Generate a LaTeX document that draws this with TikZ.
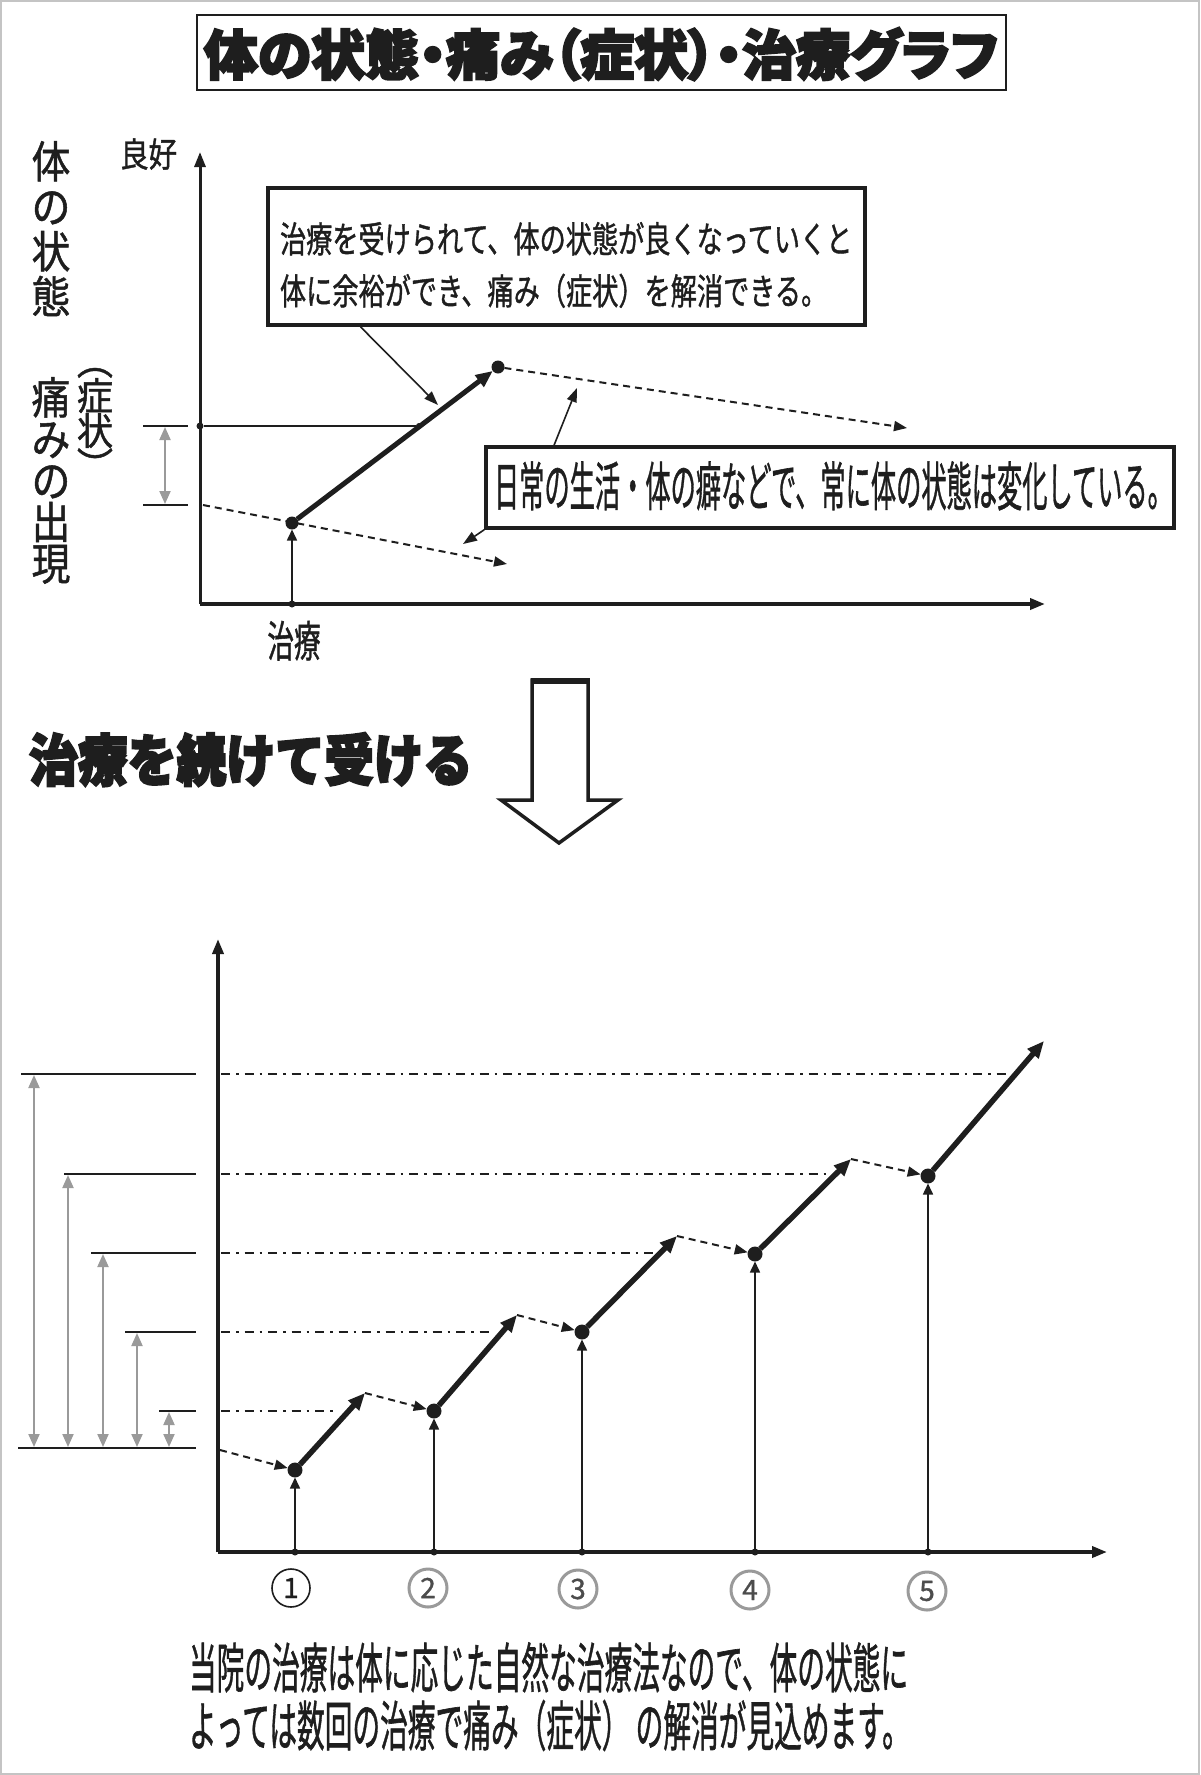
\documentclass[tikz,border=0pt]{standalone}
\usepackage{fontspec}
\usepackage{graphicx}
\usetikzlibrary{arrows.meta,calc}
\setmainfont{Noto Sans CJK JP}
\newfontfamily\jp{Noto Sans CJK JP}[FakeBold=1.2]
\newfontfamily\jpheavy{Noto Sans CJK JP}[FakeBold=4]
\newfontfamily\jptitle{Noto Sans CJK JP}[FakeBold=4, RawFeature=+palt]
\newcommand\hsq[2]{\scalebox{#1}[1]{#2}}
\definecolor{ink}{HTML}{1E1E1E}
\definecolor{midgray}{HTML}{9A9A9A}
\definecolor{framegray}{HTML}{C4C4C4}
\tikzset{
  txt/.style={inner sep=0pt, outer sep=0pt, text=ink},
  axisline/.style={draw=ink, line width=3.6pt, -{Triangle[length=15pt,width=11pt]}},
  frame/.style={draw=ink, line width=3.6pt, inner sep=0pt, fill=white},
  callout/.style={draw=ink, line width=1.6pt, -{Triangle[length=14pt,width=10pt]}},
  riser/.style={draw=ink, line width=1.6pt, -{Triangle[length=11pt,width=10pt]}},
  dashline/.style={draw=ink, line width=2pt, dash pattern=on 7pt off 5pt},
  dashtip/.style={dashline, -{Triangle[length=13pt,width=10pt]}},
  dashdot/.style={draw=ink, line width=1.8pt, dash pattern=on 9pt off 6pt on 2.5pt off 6pt},
  gain/.style={draw=ink, line width=5.5pt, -{Triangle[length=17pt,width=14pt]}},
  measure/.style={draw=midgray, line width=2pt, {Triangle[length=13pt,width=11pt]}-{Triangle[length=13pt,width=11pt]}},
  levelline/.style={draw=ink, line width=2pt},
  pointdot/.style={circle, fill=ink, inner sep=0pt, outer sep=0pt, minimum size=#1},
  pointdot/.default=15pt,
  tickdot/.style={circle, fill=ink, inner sep=0pt, outer sep=0pt, minimum size=7pt},
  numring/.style={circle, draw=#1, inner sep=0pt, minimum size=38pt, font=\jp\fontsize{28}{28}\selectfont},
}
\begin{document}
\begin{tikzpicture}[x=1pt,y=-1pt]
\useasboundingbox (0,0) rectangle (1200,1775);
\fill[white] (0,0) rectangle (1200,1775);
\draw[framegray, line width=2pt] (1,1) rectangle (1199,1774);

% ---------- title ----------
\node[draw=ink, line width=1.5pt, fill=white, minimum width=809pt, minimum height=75pt, inner sep=0pt] (titlebox) at (601.5,52.5) {};
\node[txt, anchor=base, font=\jptitle\bfseries\fontsize{54}{54}\selectfont] (title) at (601,75) {\hsq{1.0}{体の状態・痛み（症状）・治療グラフ}};

% ---------- upper graph: labels ----------
\foreach \c [count=\i from 0] in {体,の,状,態}
  \node[txt, anchor=base, font=\jp\fontsize{44}{44}\selectfont] (vbody\i) at (51,{178+45*\i}) {\hsq{0.88}{\c}};
\foreach \c [count=\i from 0] in {痛,み,の,出,現}
  \node[txt, anchor=base, font=\jp\fontsize{44}{44}\selectfont] (vpain\i) at (51,{414+41.5*\i}) {\hsq{0.88}{\c}};
\foreach \c [count=\i from 0] in {︵,症,状,︶}
  \node[txt, anchor=base, font=\jp\fontsize{38}{38}\selectfont] (vsym\i) at (95,{375+35*\i}) {\hsq{0.95}{\c}};
\node[txt, anchor=base west, font=\jp\fontsize{34}{34}\selectfont] (good) at (120,167) {\hsq{0.84}{良好}};
\node[txt, anchor=base, font=\jp\fontsize{43}{43}\selectfont] (treatlabel) at (294,657) {\hsq{0.62}{治療}};

% ---------- upper graph: axes ----------
\coordinate (O1) at (200,604);
\coordinate (Y1) at (200,152);
\coordinate (X1) at (1045,604);
\draw[axisline, line width=3pt] (O1) -- (Y1);
\draw[axisline] (O1) -- (X1);

% left measure
\coordinate (mlA) at (143,426); \coordinate (mrA) at (188,426);
\coordinate (mlB) at (143,505); \coordinate (mrB) at (188,505);
\draw[levelline, line width=1.6pt] (mlA) -- (mrA);
\draw[levelline, line width=1.6pt] (mlB) -- (mrB);
\coordinate (gA) at (165,427); \coordinate (gB) at (165,504);
\draw[measure] (gA) -- (gB);

% dashed trend through the treatment point
\coordinate (d0) at (203,505);
\coordinate (d1) at (507,564);
\coordinate (d2) at (907,428);
\draw[dashtip] (d0) -- (d1);

% points
\node[tickdot] (ydot) at (200,426) {};
\node[tickdot, minimum size=6pt] (hdot) at (419,426) {};
\node[tickdot] (xtick0) at (292,604) {};
\node[pointdot=13pt] (Ptop) at (292,523) {};
\node[pointdot=13pt] (Ttop) at (498,367) {};
\draw[levelline, line width=1.6pt] (ydot) -- (hdot);
\draw[riser] (xtick0) -- (Ptop);
\draw[gain, line width=5pt] (Ptop) -- (Ttop);
\draw[dashtip] (Ttop) -- (d2);

% callout boxes
\node[frame, minimum width=597pt, minimum height=137pt] (box1) at (566.5,256.5) {};
\node[txt, anchor=base west, font=\jp\fontsize{36}{36}\selectfont] (b1l1) at (280,252.5) {\hsq{0.727}{治療を受けられて、体の状態が良くなっていくと}};
\node[txt, anchor=base west, font=\jp\fontsize{36}{36}\selectfont] (b1l2) at (280,304.5) {\hsq{0.727}{体に余裕ができ、痛み（症状）を解消できる。}};
\node[frame, minimum width=688pt, minimum height=81pt] (box2) at (830,487.5) {};
\node[txt, anchor=base west, font=\jp\fontsize{53}{53}\selectfont] (b2l1) at (494,506) {\hsq{0.476}{日常の生活・体の癖などで、常に体の状態は変化している。}};

\coordinate (c1s) at ($(box1.south west)!0.157!(box1.south east)$);
\coordinate (c1e) at (438,405);
\draw[callout] (c1s) -- (c1e);
\coordinate (c2s) at ($(box2.north west)!0.101!(box2.north east)$);
\coordinate (c2e) at (577,388);
\draw[callout] (c2s) -- (c2e);
\coordinate (c3e) at (463,544);
\draw[callout] (box2.south west) -- (c3e);

% ---------- block arrow and caption ----------
\draw[ink, line width=3.5pt, line join=miter, fill=white]
  (532,680) -- (588,680) -- (588,800) -- (618,800) -- (559,843) -- (501,800) -- (532,800) -- cycle;
\draw[ink, line width=6pt] (530.5,681) -- (589.5,681);
\node[txt, anchor=base west, font=\jpheavy\bfseries\fontsize{56}{56}\selectfont] (continue) at (29,781) {\hsq{0.88}{治療を続けて受ける}};

% ---------- lower graph ----------
\coordinate (O2) at (218,1552);
\coordinate (Y2) at (218,939);
\coordinate (X2) at (1107,1552);
\draw[axisline] (O2) -- (Y2);
\draw[axisline] (O2) -- (X2);

% left measuring lines
\foreach \lv/\lx/\gx [count=\k] in {1074/21/34, 1174/64/68, 1253/91/103, 1332/125/137, 1411/159/169} {
  \coordinate (ll\k) at (\lx,\lv);
  \coordinate (lr\k) at (196,\lv);
  \draw[levelline] (ll\k) -- (lr\k);
  \coordinate (gt\k) at (\gx,\lv+1);
  \coordinate (gb\k) at (\gx,1447);
  \draw[measure] (gt\k) -- (gb\k);
}
\coordinate (base0) at (18,1448);
\coordinate (base1) at (196,1448);
\draw[levelline] (base0) -- (base1);

% dash-dot level lines
\foreach \lv/\ex [count=\k] in {1074/1006, 1174/830, 1253/654, 1332/494, 1411/337} {
  \coordinate (ds\k) at (221,\lv);
  \coordinate (de\k) at (\ex,\lv);
  \draw[dashdot] (ds\k) -- (de\k);
}

% treatment points
\coordinate (A1) at (365,1393);
\coordinate (A2) at (517,1315);
\coordinate (A3) at (677,1236);
\coordinate (A4) at (851,1159);
\coordinate (A5) at (1044,1041);
\coordinate (S0) at (220,1450);
\node[pointdot] (P1) at (295,1470) {};
\node[pointdot] (P2) at (434,1411) {};
\node[pointdot] (P3) at (582,1332) {};
\node[pointdot] (P4) at (755,1254) {};
\node[pointdot] (P5) at (928,1176) {};
\foreach \x [count=\k] in {295,434,582,755,928}
  \node[tickdot] (t\k) at (\x,1552) {};
\foreach \k in {1,...,5}
  \draw[riser] (t\k) -- (P\k);
\draw[dashtip] (S0) -- (P1);
\draw[dashtip] (A1) -- (P2);
\draw[dashtip] (A2) -- (P3);
\draw[dashtip] (A3) -- (P4);
\draw[dashtip] (A4) -- (P5);
\foreach \k in {1,...,5}
  \draw[gain] (P\k) -- (A\k);

% circled numbers
\node[numring=ink, line width=1.6pt, text=ink] (n1) at (291,1588) {1};
\node[numring=midgray, line width=3pt, text=black!70] (n2) at (428,1588) {2};
\node[numring=midgray, line width=3pt, text=black!70] (n3) at (578,1589) {3};
\node[numring=midgray, line width=3pt, text=black!70] (n4) at (750,1590) {4};
\node[numring=midgray, line width=3pt, text=black!70] (n5) at (927,1591) {5};

% bottom note
\node[txt, anchor=base west, font=\jp\fontsize{54}{54}\selectfont] (note1) at (189,1688) {\hsq{0.513}{当院の治療は体に応じた自然な治療法なので、体の状態に}};
\node[txt, anchor=base west, font=\jp\fontsize{54}{54}\selectfont] (note2) at (189,1746) {\hsq{0.513}{よっては数回の治療で痛み（症状） の解消が見込めます。}};
\end{tikzpicture}
\end{document}
